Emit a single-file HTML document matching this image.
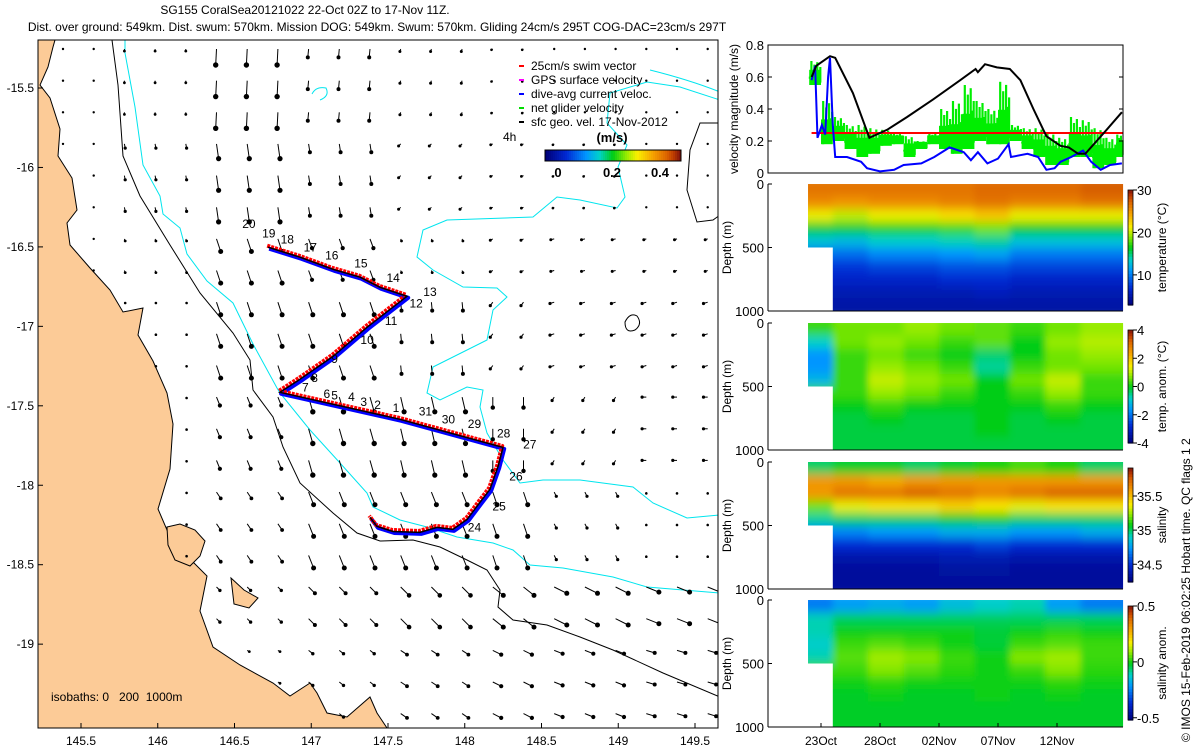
<!DOCTYPE html>
<html><head><meta charset="utf-8"><style>
html,body{margin:0;padding:0;background:#fff}
svg{display:block;font-family:"Liberation Sans",sans-serif}
</style></head><body>
<svg id="fig" width="1200" height="750" viewBox="0 0 1200 750" xmlns="http://www.w3.org/2000/svg">
<defs><filter id="blur" x="-5%" y="-5%" width="110%" height="110%"><feGaussianBlur stdDeviation="3.5 5"/></filter></defs>
<rect x="0" y="0" width="1200" height="750" fill="#fff"/>
<text x="305" y="14" font-size="12" text-anchor="middle">SG155 CoralSea20121022 22-Oct 02Z to 17-Nov 11Z.</text>
<text x="377" y="31" font-size="12" text-anchor="middle">Dist. over ground: 549km. Dist. swum: 570km. Mission DOG: 549km. Swum: 570km. Gliding 24cm/s 295T COG-DAC=23cm/s 297T</text>
<g id="map"></g>
<g id="right"></g>
<text transform="translate(1190,742) rotate(-90)" font-size="12">© IMOS 15-Feb-2019 06:02:25 Hobart time. QC flags 1  2</text>
</svg>
<script>
// ===== Map data =====
const trackLon=[146.718,146.927,147.142,147.318,147.448,147.624,147.363,147.142,146.927,146.796,147.578,148.249,148.217,148.164,148.099,148.015,147.923,147.819,147.708,147.533,147.428,147.383];
const trackLat=[-16.502,-16.565,-16.641,-16.691,-16.754,-16.811,-17.006,-17.189,-17.333,-17.415,-17.585,-17.762,-17.881,-18.026,-18.108,-18.215,-18.278,-18.265,-18.297,-18.291,-18.259,-18.202];
const dayLabels=["20","19","18","17","16","15","14","13","12","11","10","9","8","7","6","5","4","3","2","1","31","30","29","28","27","26","25","24"];
const dayLabelLon=[146.55,146.68,146.80,146.95,147.09,147.28,147.49,147.73,147.64,147.48,147.32,147.13,147.00,146.94,147.08,147.13,147.24,147.32,147.41,147.53,147.70,147.85,148.02,148.21,148.38,148.29,148.18,148.02];
const dayLabelLat=[-16.38,-16.44,-16.48,-16.53,-16.58,-16.63,-16.72,-16.81,-16.88,-16.99,-17.11,-17.23,-17.35,-17.41,-17.45,-17.46,-17.47,-17.50,-17.52,-17.54,-17.56,-17.61,-17.64,-17.70,-17.77,-17.97,-18.16,-18.29];
const lonTicks=[145.5,146,146.5,147,147.5,148,148.5,149,149.5];
const latTicks=[-15.5,-16,-16.5,-17,-17.5,-18,-18.5,-19];
const uGrid=[[0,0,-0.02,-0.02,-0.02,-0.03,0,0],[0,0.02,0.05,0.03,-0.05,-0.05,-0.03,0],[0,0.02,0.1,0.08,0.02,-0.06,-0.08,-0.06],[0,0.02,0.1,0.1,0.02,-0.06,-0.1,-0.1],[0,0.02,0.08,0.1,0.08,0,-0.05,-0.1],[0,0.02,0.1,0.12,0.12,0.1,0.05,0],[0,0.02,0.08,0.15,0.2,0.25,0.3,0.3],[0,0,0.05,0.1,0.15,0.2,0.2,0.2]];
const vGrid=[[0,-0.05,-0.38,-0.2,-0.06,-0.02,0,0],[0,-0.1,-0.35,-0.2,-0.05,-0.02,-0.02,0],[0,-0.05,-0.3,-0.22,-0.05,-0.03,-0.02,-0.02],[0,-0.02,-0.3,-0.3,-0.2,-0.08,-0.03,-0.03],[0,-0.02,-0.2,-0.35,-0.35,-0.25,-0.08,0],[0,-0.02,-0.15,-0.3,-0.3,-0.3,-0.1,-0.03],[0,-0.02,-0.08,-0.15,-0.2,-0.2,-0.15,-0.12],[0,0,-0.03,-0.08,-0.1,-0.1,-0.08,-0.06]];

// ===== Velocity panel data (days since 23-Oct) =====
const geoDays=[-0.8,-0.4,0.76,1.2,2.7,4.1,5.6,7.3,9.5,11.8,13.1,13.3,13.9,14.9,16.0,16.9,18.0,19.1,20.3,21.0,21.8,22.4,24.2,25.5];
const geoVel=[0.6,0.67,0.73,0.72,0.5,0.22,0.27,0.35,0.46,0.58,0.65,0.63,0.68,0.66,0.65,0.58,0.4,0.23,0.17,0.16,0.12,0.12,0.27,0.38];
const dacDays=[-0.8,-0.5,-0.3,0.08,0.36,0.6,0.76,1.0,1.2,2.2,3.4,3.9,5.0,6.2,7.0,8.5,9.6,10.9,12.1,12.7,13.3,14.1,15.0,15.9,16.1,17.5,18.4,19.1,19.8,20.3,21.2,22.2,22.9,23.7,24.5,25.5];
const dacVel=[0.58,0.67,0.22,0.3,0.24,0.6,0.72,0.3,0.1,0.1,0.07,0.03,0.01,0.02,0.05,0.06,0.1,0.16,0.13,0.08,0.13,0.06,0.09,0.18,0.1,0.12,0.1,0.02,0.03,0.07,0.1,0.14,0.07,0.02,0.05,0.06];
const netDays=[-1,0,1,2,3,4,5,6,7,8,9,10,11,12,13,14,15,16,17,18,19,20,21,22,23,24,25,25.6];
const netLo=[0.55,0.18,0.2,0.15,0.1,0.12,0.17,0.18,0.1,0.15,0.18,0.15,0.12,0.15,0.2,0.18,0.18,0.2,0.15,0.1,0.05,0.05,0.1,0.1,0.03,0.05,0.1,0.12];
const netHi=[0.7,0.45,0.35,0.3,0.3,0.28,0.27,0.25,0.23,0.2,0.25,0.4,0.45,0.55,0.45,0.4,0.57,0.3,0.28,0.28,0.25,0.22,0.35,0.33,0.28,0.22,0.24,0.24];
const swimSpeed=0.25;
const dateTicks=[0,5,10,15,20];
const dateLabels=["23Oct","28Oct","02Nov","07Nov","12Nov"];

// ===== Section data =====
const tEdges=[-1.1,1.0,4,7,10,13,16,19,22,25.6];
const depthEdges=[0,100,200,300,400,500,600,700,800,900,1000];
const tempVals=[[26.5,26.5,26.5,26.5,26.5,27,27,27,27.5],[25.5,25,25.5,25.5,26,26.5,26,26,26.5],[21,20,21,21,22,23,21,21,21],[16,16,17,17,17.5,18.5,16.5,16.5,16.5],[13,12.5,13.5,13.5,14,14.5,13,13,13],[null,9.5,10.5,10.5,11,11.5,10,10,10],[null,7.5,8,8,8.5,8.5,8,8,8],[null,6.5,6.5,6.5,7,7,6.5,6.5,6.5],[null,5.5,5.5,5.5,5.5,6,5.5,5.5,5.5],[null,5,5,5,5,5,5,5,5]];
const tanomVals=[[0.3,0.6,0.6,0.8,0.6,0.5,0.3,0.6,0.8],[-0.8,0.6,0.8,0.6,0.3,0.5,0,0.8,1],[-1.6,0.3,0.6,0.3,0,-0.4,0,0.6,0.8],[-1.6,0.3,0.8,0.6,0.3,-0.6,0.3,0.6,0.6],[-1.2,0.3,1.1,0.8,0.6,0,0.6,1.1,0.3],[null,0.3,0.8,0.6,0.3,0,0.3,0.8,0.3],[null,0,0.3,0,0,0,0,0.3,0],[null,-0.2,0,-0.2,-0.2,0,-0.2,0,-0.2],[null,-0.2,-0.2,-0.2,-0.2,0,-0.2,-0.2,-0.2],[null,-0.2,-0.2,-0.2,-0.2,-0.2,-0.2,-0.2,-0.2]];
const salVals=[[35.0,35.05,35.05,35.0,35.05,35.1,35.15,35.1,35.0],[35.6,35.6,35.55,35.6,35.6,35.6,35.6,35.6,35.6],[35.6,35.7,35.7,35.75,35.7,35.65,35.7,35.75,35.75],[35.2,35.35,35.4,35.4,35.45,35.4,35.35,35.4,35.4],[34.95,35.0,35.0,35.0,35.05,35.1,35.0,35.0,35.0],[null,34.7,34.75,34.75,34.8,34.8,34.75,34.75,34.8],[null,34.5,34.5,34.5,34.5,34.55,34.5,34.5,34.5],[null,34.38,34.38,34.38,34.4,34.4,34.38,34.38,34.38],[null,34.34,34.34,34.34,34.35,34.35,34.34,34.34,34.34],[null,34.34,34.34,34.34,34.34,34.34,34.34,34.34,34.34]];
const sanomVals=[[-0.25,-0.2,-0.18,-0.2,-0.15,-0.12,-0.1,-0.2,-0.25],[-0.1,-0.05,-0.05,-0.05,-0.05,-0.05,-0.05,-0.05,-0.05],[-0.1,0,0,0,0,-0.03,0,0.02,0],[-0.12,0.03,0.05,0.03,0,-0.03,0.03,0.05,0.03],[-0.1,0.05,0.1,0.08,0.03,0,0.08,0.1,0.03],[null,0.03,0.08,0.05,0.02,0,0.03,0.08,0.02],[null,0,0.02,0,0,0,0,0.02,0],[null,-0.02,0,-0.02,-0.02,0,-0.02,0,-0.02],[null,-0.02,-0.02,-0.02,-0.02,-0.02,-0.02,-0.02,-0.02],[null,-0.02,-0.02,-0.02,-0.02,-0.02,-0.02,-0.02,-0.02]];

const NS="http://www.w3.org/2000/svg";
function mk(parent,tag,attrs,text){const e=document.createElementNS(NS,tag);for(const k in attrs)e.setAttribute(k,attrs[k]);if(text!==undefined)e.textContent=text;parent.appendChild(e);return e;}
const stops=[[0,[0,0,120]],[0.15,[0,40,210]],[0.3,[0,150,255]],[0.4,[0,210,200]],[0.5,[0,205,20]],[0.6,[150,235,0]],[0.68,[250,240,0]],[0.8,[245,160,0]],[0.9,[220,100,0]],[0.95,[190,60,0]],[1,[130,20,10]]];
function cmap(t){t=Math.max(0,Math.min(1,t));for(let i=1;i<stops.length;i++){if(t<=stops[i][0]){const a=stops[i-1],b=stops[i];const f=(t-a[0])/(b[0]-a[0]);const c=a[1].map((v,j)=>Math.round(v+(b[1][j]-v)*f));return `rgb(${c[0]},${c[1]},${c[2]})`;}}return "rgb(130,20,10)";}

// ===== MAP =====
const map=document.getElementById('map');
const MX0=38,MX1=718,MY0=40,MY1=728;
const xL=lon=>388+(lon-147.5)*153.5;
const yL=lat=>88+(-15.5-lat)*158.9;
const ptsStr=a=>a.map(p=>p[0]+','+p[1]).join(' ');
const landPts=[[38,40],[55,40],[53,47],[48,67],[40,85],[50,98],[60,129],[58,156],[72,178],[77,210],[67,223],[70,245],[90,268],[110,290],[123,312],[143,308],[138,335],[153,361],[167,393],[173,424],[170,469],[158,509],[173,544],[193,562],[207,576],[200,611],[213,647],[240,665],[273,683],[290,696],[310,683],[317,693],[327,713],[347,717],[370,697],[377,713],[387,728],[38,728]];
const clip=mk(map,'clipPath',{id:'mapclip'});mk(clip,'rect',{x:MX0,y:MY0,width:MX1-MX0,height:MY1-MY0});
const mg=mk(map,'g',{'clip-path':'url(#mapclip)'});
const land=mk(mg,'polygon',{points:ptsStr(landPts),fill:'#fccb97',stroke:'#000','stroke-width':1});


const isl1=mk(mg,'polygon',{points:'167,527 180,524 195,530 205,541 200,556 190,566 175,560 168,545',fill:'#fccb97',stroke:'#000','stroke-width':1});


const isl2=mk(mg,'polygon',{points:'231,578 244,590 258,598 249,608 234,604',fill:'#fccb97',stroke:'#000','stroke-width':1});


const iso1000=[[112,40],[118,85],[123,156],[140,196],[170,245],[200,293],[233,333],[250,360],[253,390],[273,417],[283,447],[300,483],[333,513],[357,533],[380,541],[413,540],[440,547],[467,560],[487,570],[500,590],[498,607],[513,620],[547,625],[580,637],[613,650],[663,673],[720,697]];
const i1=mk(mg,'polyline',{points:ptsStr(iso1000),fill:'none',stroke:'#000','stroke-width':1});


const iso1000b=mk(mg,'polyline',{points:'720,123 700,123 690,150 687,190 697,222 713,220 720,215',fill:'none',stroke:'#000','stroke-width':1});


const iso1000c=mk(mg,'path',{d:'M625,322 q5,-10 12,-6 q6,8 -2,14 q-10,4 -10,-8z',fill:'none',stroke:'#000','stroke-width':1});


const iso200=[[125,40],[125,53],[135,107],[143,165],[160,196],[163,214],[180,228],[187,254],[207,281],[233,303],[253,344],[277,388],[280,393],[310,430],[340,463],[367,493],[373,507],[400,520],[427,527],[457,537],[493,543],[513,550],[530,565],[563,568],[613,577],[647,587],[720,593]];
const i2=mk(mg,'polyline',{points:ptsStr(iso200),fill:'none',stroke:'#00e5ee','stroke-width':1});


const iso200b=[[720,100],[680,87],[647,82],[610,93],[607,123],[627,145],[618,167],[625,197],[617,208],[580,200],[557,197],[533,217],[447,220],[423,230],[417,257],[433,270],[463,287],[497,288],[507,297],[493,310],[487,340],[467,350],[433,367],[427,393],[440,400],[467,387],[483,390],[480,407],[487,433],[503,460],[520,483],[543,480],[580,480],[633,487],[653,503],[687,518],[720,515]];
const i3=mk(mg,'polyline',{points:ptsStr(iso200b),fill:'none',stroke:'#00e5ee','stroke-width':1});


const i4=mk(mg,'path',{d:'M650,70 Q690,80 720,92 M312,94 q4,-8 14,-6 q4,8 -6,12',fill:'none',stroke:'#00e5ee','stroke-width':1});


function inPoly(x,y,P){let c=false;for(let i=0,j=P.length-1;i<P.length;j=i++){const a=P[i],b=P[j];if(((a[1]>y)!=(b[1]>y))&&(x<(b[0]-a[0])*(y-a[1])/(b[1]-a[1])+a[0]))c=!c;}return c;}
const ag=mk(mg,'g',{stroke:'#000',fill:'#000'});


for(let j=0;j<22;j++){for(let k=0;k<22;k++){
  const x=63+30.7*k,y=49+31.65*j;
  if(x>716||inPoly(x,y,landPts))continue;
  const ci=Math.min(7,Math.max(0,Math.floor((x-38)/85))),ri=Math.min(7,Math.max(0,Math.floor((y-40)/86)));
  const u=uGrid[ri][ci],v=vGrid[ri][ci];
  const tx=x+u*42,ty=y-v*42;
  const ln=mk(ag,'line',{x1:x.toFixed(1),y1:y.toFixed(1),x2:tx.toFixed(1),y2:ty.toFixed(1),'stroke-width':1});
  
  
  const spd=Math.hypot(u,v);
  mk(ag,'circle',{cx:tx.toFixed(1),cy:ty.toFixed(1),r:(1.2+spd*4).toFixed(1),stroke:'none'});
}}
const tp=trackLon.map((l,i)=>[xL(l).toFixed(1),yL(trackLat[i]).toFixed(1)]);
const tpB=tp.map(p=>[(+p[0]+1.2).toFixed(1),(+p[1]+1.5).toFixed(1)]);
const tb=mk(mg,'polyline',{points:ptsStr(tpB),fill:'none',stroke:'#0000ff','stroke-width':4,'stroke-linejoin':'round'});


const tr=mk(mg,'polyline',{points:ptsStr(tp.map(p=>[(+p[0]-0.8).toFixed(1),(+p[1]-1.5).toFixed(1)])),fill:'none',stroke:'#ff0000','stroke-width':4,'stroke-linejoin':'round','stroke-dasharray':'3 1'});


const tk=mk(mg,'polyline',{points:ptsStr(tp),fill:'none',stroke:'#000','stroke-width':1.5});


dayLabels.forEach((s,i)=>{const t=mk(mg,'text',{x:xL(dayLabelLon[i]).toFixed(1),y:yL(dayLabelLat[i]).toFixed(1),'font-size':12},s);

});
const lg=mk(map,'g',{});


const legT=["25cm/s swim vector","GPS surface velocity","dive-avg current veloc.","net glider velocity","sfc geo. vel. 17-Nov-2012"];
const legC=["#ff0000","#ff00ff","#0000ff","#00dd00","#000"];
legT.forEach((s,i)=>{const y=66+14*i;mk(lg,'line',{x1:519,y1:y,x2:524,y2:y,stroke:legC[i],'stroke-width':2});
const t=mk(lg,'text',{x:531,y:y+4,'font-size':12},s);

});
mk(map,'text',{x:503,y:141,'font-size':12},'4h');
mk(map,'text',{x:612,y:142,'font-size':13,'font-weight':'bold','text-anchor':'middle'},'(m/s)');
const cbg=mk(map,'g',{});


for(let i=0;i<68;i++){mk(cbg,'rect',{x:545+i*2,y:150,width:2.2,height:11,fill:cmap(i/67)});}
mk(cbg,'rect',{x:545,y:150,width:136,height:11,fill:'none',stroke:'#000','stroke-width':1});
[['0',558],['0.2',612],['0.4',660]].forEach(a=>mk(cbg,'text',{x:a[1],y:177,'font-size':13,'font-weight':'bold','text-anchor':'middle'},a[0]));
const iso=mk(map,'text',{x:51,y:701,'font-size':12},'isobaths: 0   200  1000m');
iso.setAttribute('xml:space','preserve');
iso.setAttribute('style','white-space:pre');
mk(map,'rect',{x:MX0,y:MY0,width:MX1-MX0,height:MY1-MY0,fill:'none',stroke:'#000','stroke-width':1,});
lonTicks.forEach(l=>{const x=xL(l);mk(map,'line',{x1:x,y1:MY1,x2:x,y2:MY1-5,stroke:'#000'});
const t=mk(map,'text',{x:x,y:745,'font-size':12,'text-anchor':'middle'},String(l));

});
latTicks.forEach(l=>{const y=yL(l);mk(map,'line',{x1:MX0,y1:y,x2:MX0+5,y2:y,stroke:'#000'});
const t=mk(map,'text',{x:34,y:y+4,'font-size':12,'text-anchor':'end'},String(l));

});

// ===== RIGHT PANELS =====
const R=document.getElementById('right');
const RX0=768,RX1=1123;
const xT=d=>821+d*11.8;
const VY0=45,VY1=173;
const yV=v=>VY1-v/0.8*(VY1-VY0);
const vp=mk(R,'g',{});


const fr=[0.35,1,0.55,0.85,0.4,0.95,0.6,0.75];
const gg=mk(vp,'g',{stroke:'#00ee00','stroke-width':2.2});


netDays.forEach((d,i)=>{if(i<netDays.length-1){const span=netDays[i+1]-d;
  const lo=netLo[i],hi=netHi[i];
  const band=mk(gg,'rect',{x:xT(d),y:yV((lo+hi)/2+0.02),width:span*11.8,height:yV(lo)-yV((lo+hi)/2+0.02),fill:'#00ee00',stroke:'none'});
  fr.forEach((f,k)=>{const x=xT(d+span*(k+0.5)/fr.length);const top=lo+(hi-lo)*f;const bot=lo+(hi-lo)*(1-f)*0.4;
    mk(gg,'line',{x1:x.toFixed(1),y1:yV(top).toFixed(1),x2:x.toFixed(1),y2:yV(bot).toFixed(1)});});}});
const rl=mk(vp,'line',{x1:xT(-0.8),y1:yV(swimSpeed),x2:RX1,y2:yV(swimSpeed),stroke:'#ff0000','stroke-width':2});


const bl=mk(vp,'polyline',{points:ptsStr(dacDays.map((d,i)=>[xT(d).toFixed(1),yV(dacVel[i]).toFixed(1)])),fill:'none',stroke:'#0000ff','stroke-width':2});


const kl=mk(vp,'polyline',{points:ptsStr(geoDays.map((d,i)=>[xT(d).toFixed(1),yV(geoVel[i]).toFixed(1)])),fill:'none',stroke:'#000','stroke-width':2});


mk(vp,'rect',{x:RX0,y:VY0,width:RX1-RX0,height:VY1-VY0,fill:'none',stroke:'#000','stroke-width':1});
[0,0.2,0.4,0.6,0.8].forEach(v=>{const y=yV(v);mk(vp,'line',{x1:RX0,y1:y,x2:RX0+4,y2:y,stroke:'#000'});mk(vp,'line',{x1:RX1,y1:y,x2:RX1-4,y2:y,stroke:'#000'});
const t=mk(vp,'text',{x:RX0-4,y:y+5,'font-size':13,'text-anchor':'end'},String(v));

});
mk(vp,'text',{transform:'translate(738,109) rotate(-90)','font-size':12,'text-anchor':'middle'},'velocity magnitude (m/s)');
const panels=[
 {top:184,vals:tempVals,lo:2.9,hi:30,cb:[190,305],ticks:[10,20,30],lab:'temperature (°C)',name:'temperature-section'},
 {top:323,vals:tanomVals,lo:-4,hi:4,cb:[330,443],ticks:[-4,-2,0,2,4],lab:'temp. anom. (°C)',name:'temperature-anomaly-section'},
 {top:462,vals:salVals,lo:34.24,hi:35.91,cb:[468,582],ticks:[34.5,35,35.5],lab:'salinity',name:'salinity-section'},
 {top:600,vals:sanomVals,lo:-0.52,hi:0.5,cb:[606,720],ticks:[-0.5,0,0.5],lab:'salinity anom.',name:'salinity-anomaly-section'}];
panels.forEach((P,pi)=>{
 const g=mk(R,'g',{});
 
 
 const H=127,yD=d=>P.top+d/1000*H;
 const cp=mk(g,'clipPath',{id:'sec'+pi});
 const xa=xT(tEdges[0]),xb=xT(tEdges[1]),xe=xT(tEdges[tEdges.length-1]);
 mk(cp,'polygon',{points:`${xa},${P.top} ${xe},${P.top} ${xe},${P.top+H} ${xb},${P.top+H} ${xb},${yD(500)} ${xa},${yD(500)}`});
 const cg=mk(g,'g',{'clip-path':`url(#sec${pi})`});
 const bg=mk(cg,'g',{filter:'url(#blur)'});
 for(let r=0;r<depthEdges.length-1;r++)for(let c=0;c<tEdges.length-1;c++){
   let v=P.vals[r][c];if(v===null)v=P.vals[r][c+1];
   const x0=xT(tEdges[c]),x1=xT(tEdges[c+1]);
   const ya=yD(depthEdges[r])-(r===0?8:0),yb=yD(depthEdges[r+1])+(r===depthEdges.length-2?8:0);
   const cell=mk(bg,'rect',{x:(x0-(c===0?8:0)).toFixed(1),y:ya.toFixed(1),width:(x1-x0+0.6+(c===0?8:0)+(c===tEdges.length-2?8:0)).toFixed(1),height:(yb-ya+0.6).toFixed(1),fill:cmap((v-P.lo)/(P.hi-P.lo))});
   
   
 }
 mk(g,'line',{x1:RX0,y1:P.top,x2:RX0,y2:P.top+H,stroke:'#000'});
 mk(g,'line',{x1:RX0,y1:P.top+H,x2:RX1,y2:P.top+H,stroke:'#000'});
 [0,500,1000].forEach(d=>{const y=yD(d);mk(g,'line',{x1:RX0,y1:y,x2:RX0+4,y2:y,stroke:'#000'});
   const t=mk(g,'text',{x:RX0-4,y:y+5,'font-size':13,'text-anchor':'end'},String(d));
   
   });
 mk(g,'text',{transform:`translate(731,${P.top+H/2}) rotate(-90)`,'font-size':12,'text-anchor':'middle'},'Depth (m)');
 const [c0,c1]=P.cb,n=40;
 for(let i=0;i<n;i++){const y=c1-(i+1)*(c1-c0)/n;mk(g,'rect',{x:1128,y:y.toFixed(1),width:5,height:((c1-c0)/n+0.6).toFixed(1),fill:cmap((i+0.5)/n)});}
 mk(g,'rect',{x:1128,y:c0,width:5,height:c1-c0,fill:'none',stroke:'#000','stroke-width':0.8});
 P.ticks.forEach(tv=>{const y=c1-(tv-P.lo)/(P.hi-P.lo)*(c1-c0);mk(g,'line',{x1:1133,y1:y,x2:1137,y2:y,stroke:'#000'});
   const t=mk(g,'text',{x:1137,y:y+5,'font-size':13},String(tv));
   
   });
 mk(g,'text',{transform:`translate(1166,${(c0+c1)/2}) rotate(-90)`,'font-size':12,'text-anchor':'middle'},P.lab);
});
dateTicks.forEach((d,i)=>{const x=xT(d);mk(R,'line',{x1:x,y1:727,x2:x,y2:723,stroke:'#000'});
const t=mk(R,'text',{x:x,y:745,'font-size':12,'text-anchor':'middle'},dateLabels[i]);

});
</script>
</body></html>
